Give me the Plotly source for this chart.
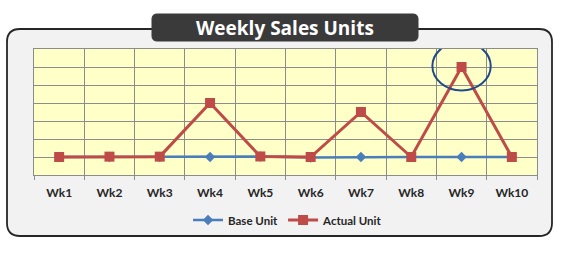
import plotly.graph_objects as go

weeks = ["Wk1", "Wk2", "Wk3", "Wk4", "Wk5", "Wk6", "Wk7", "Wk8", "Wk9", "Wk10"]
base_unit = [1, 1, 1, 1, 1.03, 0.97, 1, 1, 1, 1]
actual_unit = [1, 1.02, 1.02, 4, 1.03, 1.0, 3.5, 1, 6, 1]

W, H = 561, 254
L, R, T, B = 34, 24, 49, 79
pw, ph = W - L - R, H - T - B

def px(x):
    return (x - L) / pw

def py(y):
    return (H - B - y) / ph

def rounded(x0, y0, x1, y1, r):
    # pixel coords -> paper path with rounded corners
    rx, ry = r / pw, r / ph
    X0, X1 = px(x0), px(x1)
    Y0, Y1 = py(y1), py(y0)  # bottom, top in paper
    return (f"M {X0+rx},{Y1} L {X1-rx},{Y1} Q {X1},{Y1} {X1},{Y1-ry} "
            f"L {X1},{Y0+ry} Q {X1},{Y0} {X1-rx},{Y0} "
            f"L {X0+rx},{Y0} Q {X0},{Y0} {X0},{Y0+ry} "
            f"L {X0},{Y1-ry} Q {X0},{Y1} {X0+rx},{Y1} Z")

fig = go.Figure()
fig.add_trace(go.Scatter(
    x=weeks, y=base_unit, name="Base Unit", mode="lines+markers",
    line=dict(color="#4a7ebb", width=2.5),
    marker=dict(symbol="diamond", size=8, color="#4a7ebb"),
))
fig.add_trace(go.Scatter(
    x=weeks, y=actual_unit, name="Actual Unit", mode="lines+markers",
    line=dict(color="#be4b48", width=3),
    marker=dict(symbol="square", size=10, color="#be4b48"),
))

imax = max(range(len(actual_unit)), key=lambda i: actual_unit[i])
vmax = actual_unit[imax]

shapes = [
    dict(type="path", xref="paper", yref="paper", layer="below",
         path=rounded(7, 29, 552, 236, 13),
         fillcolor="#f2f2f2", line=dict(color="#262626", width=1.8)),
    dict(type="path", xref="paper", yref="paper", layer="below",
         path=rounded(152, 14, 418, 41, 5),
         fillcolor="#3a3a3a", line=dict(color="#3a3a3a", width=1)),
    dict(type="rect", xref="paper", yref="paper", layer="below",
         x0=0, x1=1, y0=0, y1=1, fillcolor="#ffffc8", line=dict(width=0)),
    dict(type="circle", xref="x", yref="y",
         x0=imax - 0.58, x1=imax + 0.58, y0=vmax - 1.3, y1=vmax + 1.4,
         line=dict(color="#1f4a8a", width=2)),
]

fig.update_layout(
    width=W, height=H,
    margin=dict(l=L, r=R, t=T, b=B),
    paper_bgcolor="white",
    plot_bgcolor="#ffffc8",
    shapes=shapes,
    showlegend=True,
    legend=dict(orientation="h", x=0.505, xanchor="center", xref="paper",
                y=py(220), yanchor="middle",
                font=dict(family="Lato", size=11.5, color="#262626", weight="bold"),
                bgcolor="rgba(0,0,0,0)", itemwidth=30, tracegroupgap=0),
    annotations=[dict(
        text="<b>Weekly Sales Units</b>", xref="paper", yref="paper",
        x=px(285), y=py(28), xanchor="center", yanchor="middle",
        showarrow=False, font=dict(family="Open Sans", size=19, color="white"),
    )],
)
fig.update_xaxes(
    type="category", showgrid=True, gridcolor="#8c8c8c", gridwidth=1,
    tickson="boundaries", ticks="outside", ticklen=4, tickcolor="#8c8c8c",
    showline=True, linecolor="#8c8c8c", mirror=True, ticklabelstandoff=7,
    tickfont=dict(family="Lato", size=12, color="#262626", weight="bold"),
    range=[-0.5, 9.5], fixedrange=True,
)
fig.update_yaxes(
    range=[0, 7], dtick=1, showgrid=True, gridcolor="#8c8c8c", gridwidth=1,
    showticklabels=False, showline=True, linecolor="#8c8c8c", mirror=True,
    zeroline=False, fixedrange=True,
)

fig.write_html("out.html")
